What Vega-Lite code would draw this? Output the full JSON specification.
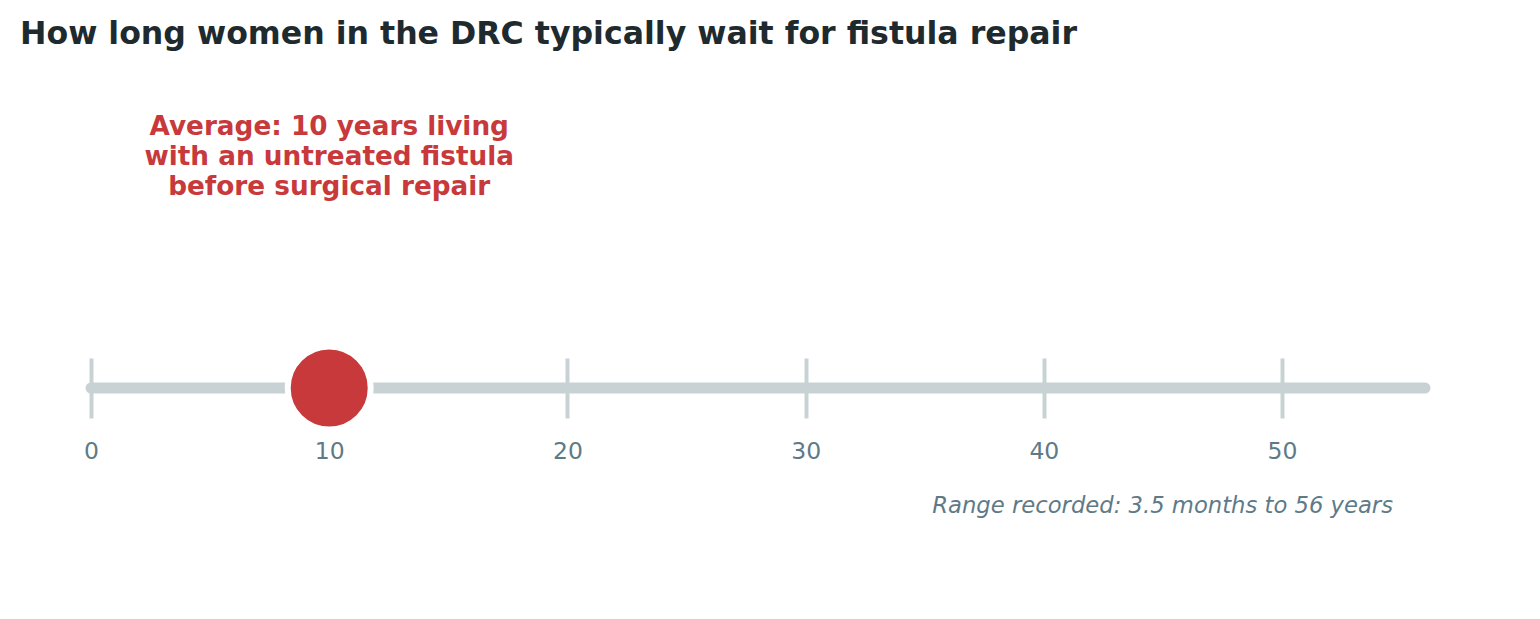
{
  "$schema": "https://vega.github.io/schema/vega-lite/v6.json",
  "description": "Typical wait for fistula repair in the DRC",
  "autosize": "none",
  "width": 1334,
  "height": 60,
  "padding": {"left": 91, "top": 358, "right": 115, "bottom": 201},
  "title": {
    "text": "How long women in the DRC typically wait for fistula repair",
    "anchor": "start",
    "frame": "group",
    "baseline": "alphabetic",
    "dx": -71,
    "offset": 38,
    "font": "DejaVu Sans",
    "fontSize": 31.6,
    "fontWeight": "bold",
    "color": "#1e2a2e"
  },
  "datasets": {
    "range": [
      {"start": 0, "end": 56, "note": "Range recorded: 3.5 months to 56 years"}
    ],
    "average": [
      {"years": 10, "label": "Average: 10 years living\nwith an untreated fistula\nbefore surgical repair"}
    ]
  },
  "layer": [
    {
      "data": {"name": "range"},
      "mark": {"type": "rule", "strokeWidth": 11, "strokeCap": "round", "color": "#c8d2d5"},
      "encoding": {
        "x": {
          "field": "start",
          "type": "quantitative",
          "scale": {"domain": [0, 56], "nice": false, "zero": false},
          "axis": {
            "values": [0, 10, 20, 30, 40, 50],
            "title": null,
            "domain": false,
            "ticks": false,
            "tickSize": 0,
            "grid": true,
            "gridColor": "#c8d2d5",
            "gridWidth": 4,
            "gridOpacity": 1,
            "labelFlush": false,
            "labelFont": "DejaVu Sans",
            "labelFontSize": 23.5,
            "labelColor": "#5f7a87",
            "labelBaseline": "alphabetic",
            "labelPadding": 40
          }
        },
        "x2": {"field": "end"},
        "y": {"datum": 0.5, "type": "quantitative", "scale": {"domain": [0, 1], "nice": false}, "axis": null}
      }
    },
    {
      "data": {"name": "average"},
      "mark": {"type": "point", "shape": "circle", "filled": true, "size": 6889, "fill": "#c8393c", "stroke": "white", "strokeWidth": 6, "opacity": 1},
      "encoding": {
        "x": {"field": "years", "type": "quantitative"},
        "y": {"datum": 0.5, "type": "quantitative"}
      }
    },
    {
      "data": {"name": "average"},
      "mark": {"type": "text", "lineBreak": "\n", "lineHeight": 30, "align": "center", "baseline": "alphabetic", "dy": -253, "font": "DejaVu Sans", "fontSize": 26.3, "fontWeight": "bold", "color": "#c8393c"},
      "encoding": {
        "x": {"field": "years", "type": "quantitative"},
        "y": {"datum": 0.5, "type": "quantitative"},
        "text": {"field": "label"}
      }
    },
    {
      "data": {"name": "range"},
      "mark": {"type": "text", "align": "right", "baseline": "alphabetic", "dx": -32, "dy": 125, "font": "DejaVu Sans", "fontSize": 22.7, "fontStyle": "italic", "color": "#5f7a87"},
      "encoding": {
        "x": {"field": "end", "type": "quantitative"},
        "y": {"datum": 0.5, "type": "quantitative"},
        "text": {"field": "note"}
      }
    }
  ],
  "config": {
    "view": {"stroke": null},
    "background": "white"
  }
}
